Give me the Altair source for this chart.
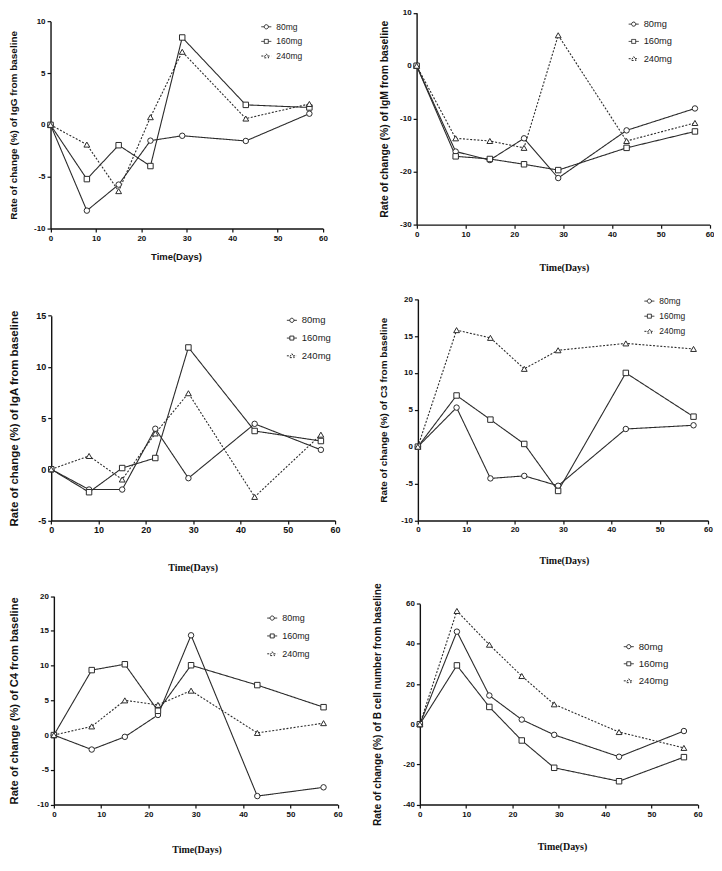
import altair as alt
import pandas as pd

# ---------------- data ----------------
days = [0, 8, 15, 22, 29, 43, 57]
doses = ["80mg", "160mg", "240mg"]

igg_80 = [0, -8.27, -5.76, -1.52, -1.05, -1.55, 1.08]
igg_160 = [0, -5.23, -1.96, -3.97, 8.43, 1.93, 1.68]
igg_240 = [0, -1.90, -6.39, 0.74, 7.05, 0.61, 2.02]

igm_80 = [0, -16.2, -17.8, -13.7, -21.2, -12.2, -8.06]
igm_160 = [0, -17.1, -17.6, -18.6, -19.7, -15.5, -12.4]
igm_240 = [0, -13.7, -14.2, -15.5, 5.76, -14.2, -10.8]

iga_80 = [0, -1.98, -1.98, 3.96, -0.87, 4.44, 1.90]
iga_160 = [0, -2.24, 0.12, 1.10, 11.9, 3.74, 2.76]
iga_240 = [0, 1.30, -1.00, 3.50, 7.43, -2.70, 3.38]

c3_80 = [0, 5.30, -4.30, -3.96, -5.30, 2.40, 2.90]
c3_160 = [0, 6.94, 3.67, 0.37, -6.00, 10.0, 4.07]
c3_240 = [0, 15.8, 14.75, 10.55, 13.07, 14.0, 13.25]

c4_80 = [0, -2.08, -0.25, 2.90, 14.37, -8.78, -7.52]
c4_160 = [0, 9.36, 10.2, 3.50, 10.06, 7.20, 4.02]
c4_240 = [0, 1.25, 5.00, 4.35, 6.40, 0.31, 1.72]

bcell_80 = [0, 46.1, 14.3, 2.3, -5.3, -16.2, -3.4]
bcell_160 = [0, 29.3, 8.6, -8.1, -21.7, -28.4, -16.4]
bcell_240 = [0, 56.4, 39.6, 24.0, 9.9, -3.9, -11.8]

x_ticks = [0, 10, 20, 30, 40, 50, 60]

# ---------------- layout helpers (style only) ----------------
W, H = 708, 850


def X(p):
    return (p - 1) * 0.985


def Y(p):
    return (p - 2) * 0.979


INK = "#2b2b2b"
SHAPES = ["circle", "square", "triangle-up"]
LEG_PATHS = [
    "M-1,0L-0.42,0M0.42,0A0.42,0.42,0,1,1,-0.42,0A0.42,0.42,0,1,1,0.42,0M0.42,0L1,0",
    "M-1,0L-0.4,0M-0.4,-0.4L0.4,-0.4L0.4,0.4L-0.4,0.4ZM0.4,0L1,0",
    "M-1,0L-0.26,0M0,-0.46L0.48,0.36L-0.48,0.36ZM0.26,0L1,0",
]
DASHES = [[1, 0], [1, 0], [2, 1.6]]

panels = [
    dict(title="Rate of change (%) of IgG  from baseline", dom=[-10, 10],
         ticks=[-10, -5, 0, 5, 10], vals=(igg_80, igg_160, igg_240),
         px=(44.3, 321.7), py=(14.3, 226.7), ytx=6.3, yts=10,
         xt=(172, 255), xtf="Liberation Sans", xts=9.5,
         leg=(264, 20, 16), legs=8.5, labs=8),
    dict(title="Rate of change (%) of IgM  from baseline", dom=[-30, 10],
         ticks=[-30, -20, -10, 0, 10], vals=(igm_80, igm_160, igm_240),
         px=(417, 715.3), py=(5.7, 222.7), ytx=384, yts=10.4,
         xt=(567, 267), xtf="Liberation Serif", xts=10,
         leg=(638, 17.3, 17.7), legs=9.3, labs=8),
    dict(title="Rate of change (%) of IgA  from baseline", dom=[-5, 15],
         ticks=[-5, 0, 5, 10, 15], vals=(iga_80, iga_160, iga_240),
         px=(45, 334), py=(316, 525.7), ytx=7.8, yts=11.5,
         xt=(189, 574), xtf="Liberation Serif", xts=10,
         leg=(290, 320.7, 19.2), legs=9.5, labs=9),
    dict(title="Rate of change (%) of C3 from baseline", dom=[-10, 20],
         ticks=[-10, -5, 0, 5, 10, 15, 20], vals=(c3_80, c3_160, c3_240),
         px=(418.3, 713.7), py=(299, 525.7), ytx=383, yts=10,
         xt=(567, 567), xtf="Liberation Serif", xts=10,
         leg=(654, 301, 16.5), legs=8.5, labs=8),
    dict(title="Rate of change (%) of C4 from baseline", dom=[-10, 20],
         ticks=[-10, -5, 0, 5, 10, 15, 20], vals=(c4_80, c4_160, c4_240),
         px=(47.7, 336.7), py=(603.3, 816.7), ytx=7.8, yts=11.2,
         xt=(193, 863), xtf="Liberation Serif", xts=10,
         leg=(270, 625.7, 18.3), legs=9, labs=8),
    dict(title="Rate of change (%) of B cell number from baseline", dom=[-40, 60],
         ticks=[-40, -20, 0, 20, 40, 60], vals=(bcell_80, bcell_160, bcell_240),
         px=(420.3, 703.3), py=(611, 816.7), ytx=376.8, yts=10.2,
         xt=(565, 860), xtf="Liberation Serif", xts=10,
         leg=(633, 655, 17.5), legs=9.7, labs=8),
]

layers = []
for p in panels:
    rows = []
    for dose, series in zip(doses, p["vals"]):
        for d, v in zip(days, series):
            rows.append({"day": d, "value": v, "dose": dose})
    df = pd.DataFrame(rows)

    x0, x1 = X(p["px"][0]), X(p["px"][1])
    ytop, ybot = Y(p["py"][0]), Y(p["py"][1])
    xscale = alt.Scale(domain=[0, 60], range=[x0, x1], nice=False, zero=False)
    yscale = alt.Scale(domain=p["dom"], range=[ybot, ytop], nice=False, zero=False)

    common_axis = dict(
        grid=False, domainColor="#111", domainWidth=1.4, tickColor="#111",
        tickWidth=1.2, tickSize=3.5, labelFont="Liberation Sans",
        labelFontWeight="bold", labelFontSize=p["labs"], labelColor="#111",
        labelPadding=2, labelFlush=False, labelOverlap=False,
        labelExpr="'' + datum.value", titleFontWeight="bold", titleColor="#111",
    )
    x_axis = alt.Axis(
        orient="bottom", offset=ybot - H, values=x_ticks,
        title="Time(Days)", titleFont=p["xtf"], titleFontSize=p["xts"],
        titleX=X(p["xt"][0]), titleY=Y(p["xt"][1]) - ybot,
        titleBaseline="middle", titleAlign="center", **common_axis,
    )
    y_axis = alt.Axis(
        orient="left", offset=-x0, values=p["ticks"],
        title=p["title"], titleFont="Liberation Sans", titleFontSize=p["yts"],
        titleX=X(p["ytx"]) - x0, titleY=(ytop + ybot) / 2, titleAngle=270,
        titleBaseline="middle", titleAlign="center", **common_axis,
    )

    line = alt.Chart(df).mark_line(color=INK, strokeWidth=1.1).encode(
        x=alt.X("day:Q", scale=xscale, axis=x_axis),
        y=alt.Y("value:Q", scale=yscale, axis=y_axis),
        strokeDash=alt.StrokeDash("dose:N", scale=alt.Scale(domain=doses, range=DASHES), legend=None),
    )
    layers.append(line)

    for dose, shape in zip(doses, SHAPES):
        pts = alt.Chart(df).transform_filter(
            alt.datum.dose == dose
        ).mark_point(
            shape=shape, size=30 if shape != "triangle-up" else 34, filled=True,
            fill="white", stroke=INK, strokeWidth=1, opacity=1,
        ).encode(
            x=alt.X("day:Q", scale=xscale, axis=None),
            y=alt.Y("value:Q", scale=yscale, axis=None),
        )
        layers.append(pts)

    lx, ly, lsp = p["leg"]
    legend = alt.Legend(
        orient="none", legendX=X(lx) - 5.5, legendY=Y(ly) - 5.5, title=None,
        padding=0, rowPadding=lsp * 0.979 - 11, labelOffset=4.5,
        labelFont="Liberation Sans", labelFontSize=p["legs"], labelColor="#222",
        symbolSize=100, symbolStrokeWidth=1, symbolStrokeColor=INK,
        symbolOpacity=1,
    )
    leg = alt.Chart(df).transform_filter("false").mark_point(
        size=100, filled=False, color=INK, strokeWidth=1, opacity=1,
    ).encode(
        shape=alt.Shape("dose:N", scale=alt.Scale(domain=doses, range=LEG_PATHS), legend=legend),
        strokeDash=alt.StrokeDash("dose:N", scale=alt.Scale(domain=doses, range=DASHES), legend=legend),
    )
    layers.append(leg)

chart = alt.layer(*layers).resolve_scale(
    x="independent", y="independent", shape="independent", strokeDash="independent"
).properties(
    width=W, height=H, autosize=alt.AutoSizeParams(type="none"), padding=0,
    background="white",
).configure_view(stroke=None)

chart.save("out.html", embed_options={"renderer": "svg", "actions": False})
